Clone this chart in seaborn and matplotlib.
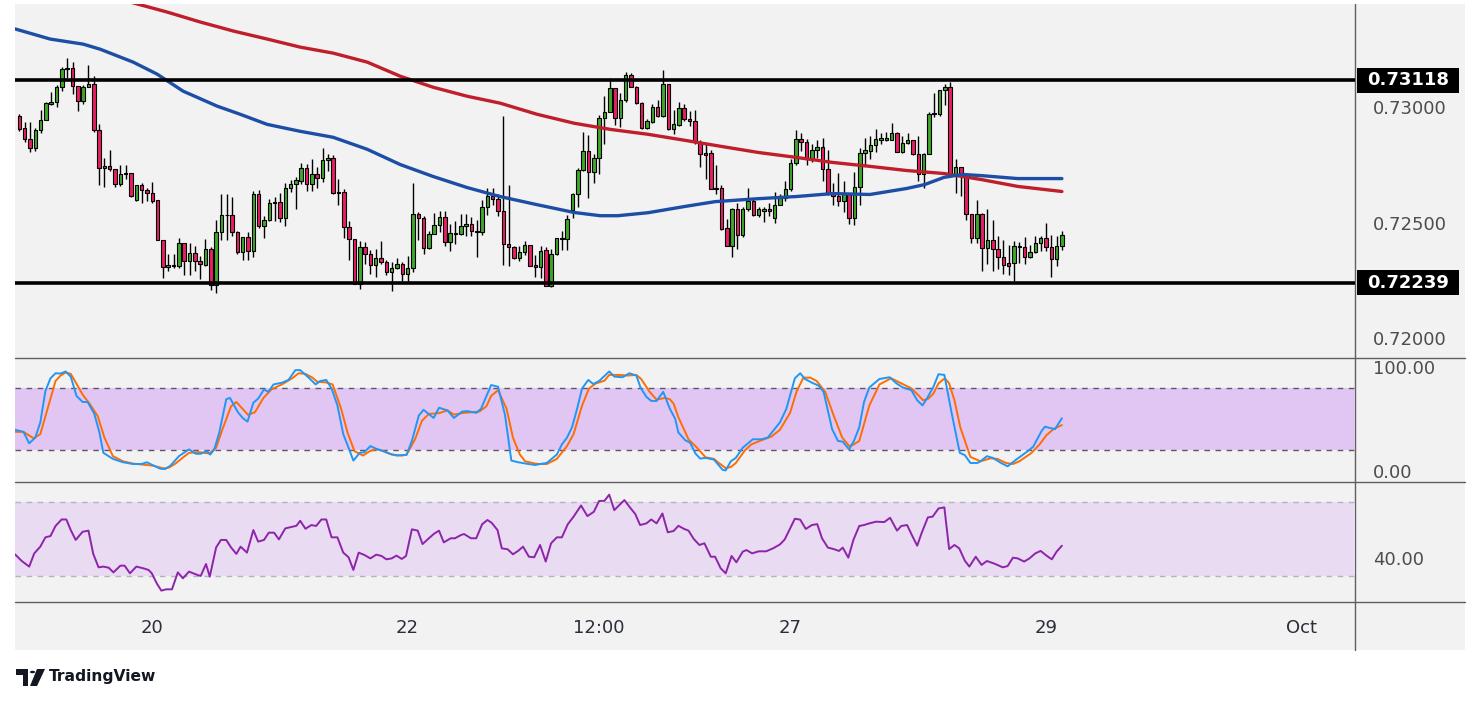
import numpy as np
import pandas as pd
import matplotlib
matplotlib.use("Agg")
import matplotlib.pyplot as plt
import seaborn as sns
from matplotlib.patches import Rectangle, Polygon, Circle, FancyBboxPatch
from matplotlib.lines import Line2D
import matplotlib.transforms as mtransforms

# ------------------------------------------------------------------ data
# hourly candles (index 0 = first visible candle)
open_ = [
 0.72962,0.72909,0.72864,0.72825,0.72901,0.72947,0.73016,0.73025,0.73086,0.73164,
 0.73169,0.73093,0.73028,0.73090,0.73103,0.72901,0.72738,0.72745,0.72734,0.72668,
 0.72712,0.72716,0.72597,0.72665,0.72643,0.72629,0.72596,0.72425,0.72307,0.72314,
 0.72314,0.72412,0.72332,0.72368,0.72335,0.72317,0.72387,0.72230,0.72460,0.72532,
 0.72533,0.72460,0.72372,0.72438,0.72375,0.72625,0.72484,0.72510,0.72584,0.72590,
 0.72520,0.72651,0.72668,0.72680,0.72738,0.72668,0.72709,0.72694,0.72773,0.72781,
 0.72633,0.72633,0.72481,0.72430,0.72233,0.72394,0.72365,0.72317,0.72346,0.72329,
 0.72288,0.72303,0.72320,0.72278,0.72303,0.72538,0.72520,0.72390,0.72451,0.72488,
 0.72525,0.72414,0.72451,0.72451,0.72484,0.72494,0.72465,0.72460,0.72568,0.72614,
 0.72604,0.72552,0.72407,0.72394,0.72346,0.72372,0.72404,0.72317,0.72307,0.72383,
 0.72227,0.72364,0.72430,0.72429,0.72553,0.72622,0.72730,0.72810,0.72720,0.72781,
 0.72955,0.72981,0.73082,0.72955,0.73032,0.73141,0.73086,0.73018,0.72912,0.72938,
 0.73003,0.72962,0.73100,0.72908,0.72923,0.72995,0.72951,0.72941,0.72851,0.72803,
 0.72803,0.72651,0.72651,0.72477,0.72397,0.72557,0.72448,0.72561,0.72593,0.72532,
 0.72552,0.72561,0.72520,0.72578,0.72607,0.72644,0.72760,0.72864,0.72851,0.72777,
 0.72814,0.72829,0.72734,0.72625,0.72614,0.72593,0.72622,0.72520,0.72655,0.72803,
 0.72810,0.72835,0.72860,0.72860,0.72860,0.72890,0.72807,0.72844,0.72857,0.72799,
 0.72709,0.72796,0.72970,0.72970,0.73074,0.73090,0.72706,0.72741,0.72706,0.72538,
 0.72433,0.72538,0.72390,0.72426,0.72386,0.72351,0.72325,0.72325,0.72394,0.72394,
 0.72351,0.72372,0.72412,0.72433,0.72394,0.72342,0.72400]
high = [
 0.72970,0.72938,0.72938,0.72912,0.72987,0.73023,0.73067,0.73096,0.73173,0.73212,
 0.73195,0.73093,0.73097,0.73183,0.73134,0.72926,0.72781,0.72814,0.72734,0.72752,
 0.72752,0.72716,0.72665,0.72673,0.72651,0.72677,0.72596,0.72425,0.72365,0.72365,
 0.72433,0.72412,0.72412,0.72397,0.72356,0.72430,0.72393,0.72513,0.72625,0.72625,
 0.72612,0.72465,0.72438,0.72460,0.72636,0.72643,0.72527,0.72604,0.72610,0.72629,
 0.72673,0.72683,0.72697,0.72760,0.72755,0.72774,0.72740,0.72825,0.72796,0.72793,
 0.72690,0.72644,0.72506,0.72430,0.72419,0.72416,0.72383,0.72386,0.72422,0.72339,
 0.72329,0.72346,0.72329,0.72356,0.72673,0.72546,0.72527,0.72462,0.72542,0.72552,
 0.72549,0.72494,0.72506,0.72538,0.72538,0.72525,0.72513,0.72600,0.72651,0.72651,
 0.72625,0.72962,0.72665,0.72397,0.72400,0.72419,0.72404,0.72361,0.72397,0.72393,
 0.72386,0.72433,0.72462,0.72535,0.72629,0.72738,0.72894,0.72878,0.72799,0.72965,
 0.73049,0.73126,0.73082,0.73064,0.73151,0.73147,0.73092,0.73021,0.72948,0.73013,
 0.73031,0.73161,0.73103,0.72987,0.73021,0.73016,0.72984,0.72987,0.72857,0.72842,
 0.72813,0.72748,0.72665,0.72517,0.72564,0.72583,0.72568,0.72651,0.72607,0.72568,
 0.72567,0.72586,0.72633,0.72622,0.72680,0.72778,0.72900,0.72890,0.72861,0.72839,
 0.72857,0.72868,0.72813,0.72673,0.72716,0.72680,0.72622,0.72720,0.72825,0.72865,
 0.72875,0.72904,0.72887,0.72894,0.72934,0.72894,0.72875,0.72890,0.72857,0.72875,
 0.72803,0.72981,0.73064,0.73074,0.73103,0.73108,0.72777,0.72741,0.72716,0.72538,
 0.72600,0.72542,0.72561,0.72513,0.72443,0.72426,0.72404,0.72422,0.72414,0.72436,
 0.72404,0.72443,0.72440,0.72499,0.72448,0.72440,0.72462]
low = [
 0.72897,0.72851,0.72806,0.72810,0.72890,0.72945,0.73009,0.73001,0.73071,0.73126,
 0.73057,0.72984,0.73016,0.73086,0.72894,0.72665,0.72653,0.72726,0.72653,0.72658,
 0.72691,0.72610,0.72593,0.72586,0.72593,0.72586,0.72425,0.72259,0.72291,0.72303,
 0.72303,0.72274,0.72274,0.72291,0.72255,0.72313,0.72209,0.72194,0.72423,0.72423,
 0.72443,0.72365,0.72336,0.72336,0.72351,0.72477,0.72433,0.72506,0.72506,0.72503,
 0.72484,0.72632,0.72561,0.72668,0.72636,0.72636,0.72651,0.72675,0.72726,0.72622,
 0.72575,0.72433,0.72336,0.72233,0.72212,0.72320,0.72278,0.72266,0.72320,0.72271,
 0.72205,0.72300,0.72245,0.72238,0.72288,0.72426,0.72365,0.72386,0.72451,0.72458,
 0.72400,0.72375,0.72409,0.72448,0.72440,0.72440,0.72353,0.72445,0.72535,0.72578,
 0.72527,0.72317,0.72314,0.72342,0.72335,0.72361,0.72314,0.72266,0.72259,0.72227,
 0.72223,0.72361,0.72383,0.72383,0.72520,0.72567,0.72723,0.72607,0.72673,0.72709,
 0.72839,0.72981,0.72922,0.72915,0.73021,0.73086,0.73013,0.72904,0.72904,0.72934,
 0.72958,0.72958,0.72900,0.72883,0.72919,0.72941,0.72919,0.72842,0.72740,0.72690,
 0.72647,0.72626,0.72470,0.72397,0.72353,0.72386,0.72436,0.72549,0.72527,0.72523,
 0.72503,0.72530,0.72499,0.72575,0.72593,0.72639,0.72752,0.72810,0.72748,0.72764,
 0.72781,0.72680,0.72619,0.72578,0.72571,0.72545,0.72494,0.72488,0.72578,0.72749,
 0.72778,0.72806,0.72842,0.72854,0.72857,0.72807,0.72803,0.72839,0.72793,0.72680,
 0.72651,0.72796,0.72958,0.72962,0.73009,0.72699,0.72629,0.72614,0.72513,0.72412,
 0.72412,0.72292,0.72320,0.72291,0.72299,0.72278,0.72274,0.72249,0.72325,0.72322,
 0.72346,0.72368,0.72375,0.72375,0.72266,0.72310,0.72383]
close = [
 0.72904,0.72864,0.72825,0.72903,0.72947,0.73018,0.73025,0.73089,0.73166,0.73169,
 0.73093,0.73028,0.73090,0.73103,0.72900,0.72738,0.72745,0.72731,0.72668,0.72713,
 0.72717,0.72617,0.72665,0.72640,0.72629,0.72593,0.72425,0.72307,0.72317,0.72317,
 0.72412,0.72332,0.72368,0.72332,0.72320,0.72386,0.72230,0.72460,0.72533,0.72535,
 0.72460,0.72372,0.72438,0.72375,0.72625,0.72484,0.72513,0.72586,0.72590,0.72520,
 0.72651,0.72668,0.72683,0.72738,0.72668,0.72709,0.72694,0.72773,0.72781,0.72629,
 0.72629,0.72481,0.72430,0.72233,0.72394,0.72364,0.72317,0.72346,0.72329,0.72288,
 0.72303,0.72320,0.72278,0.72303,0.72538,0.72520,0.72390,0.72451,0.72488,0.72525,
 0.72414,0.72455,0.72455,0.72487,0.72494,0.72462,0.72460,0.72568,0.72614,0.72603,
 0.72549,0.72407,0.72394,0.72346,0.72372,0.72404,0.72314,0.72307,0.72379,0.72227,
 0.72364,0.72433,0.72435,0.72516,0.72622,0.72730,0.72810,0.72720,0.72781,0.72955,
 0.72981,0.73082,0.72955,0.73032,0.73141,0.73086,0.73018,0.72909,0.72941,0.73003,
 0.72962,0.73100,0.72908,0.72926,0.72995,0.72951,0.72941,0.72849,0.72796,0.72793,
 0.72647,0.72647,0.72474,0.72397,0.72557,0.72448,0.72561,0.72593,0.72532,0.72557,
 0.72557,0.72549,0.72578,0.72607,0.72647,0.72760,0.72864,0.72851,0.72777,0.72814,
 0.72829,0.72734,0.72622,0.72614,0.72593,0.72622,0.72520,0.72655,0.72803,0.72813,
 0.72835,0.72861,0.72865,0.72865,0.72890,0.72807,0.72847,0.72857,0.72796,0.72709,
 0.72796,0.72973,0.72974,0.73074,0.73090,0.72706,0.72741,0.72706,0.72538,0.72433,
 0.72538,0.72390,0.72426,0.72386,0.72351,0.72317,0.72314,0.72400,0.72400,0.72351,
 0.72372,0.72412,0.72433,0.72394,0.72342,0.72400,0.72448]

# moving averages read at sampled candle positions
ma_blue_x = [-0.8,5.8,12.0,15.2,21.4,25.9,30.8,37.2,41.5,46.6,52.8,59.0,65.4,71.6,77.8,84.2,
             90.4,97.3,104.3,109.2,112.5,118.2,125.1,130.8,139.0,146.0,152.9,159.9,166.8,
             170.2,173.8,177.2,180.8,187.7,196.0]
ma_blue_y = [0.73340,0.73296,0.73274,0.73252,0.73196,0.73144,0.73070,0.73005,0.72970,0.72926,
             0.72896,0.72870,0.72818,0.72752,0.72700,0.72652,0.72613,0.72578,0.72544,0.72530,
             0.72530,0.72543,0.72570,0.72591,0.72604,0.72613,0.72626,0.72622,0.72648,0.72665,
             0.72696,0.72709,0.72704,0.72691,0.72691]
ma_red_x = [17.1,21.4,27.8,34.0,40.2,46.6,52.8,59.0,65.4,71.6,77.8,84.2,90.4,97.3,104.3,111.2,
            118.2,125.1,132.1,139.0,146.0,152.9,159.9,166.8,173.8,180.8,187.7,196.0]
ma_red_y = [0.73483,0.73453,0.73413,0.73370,0.73331,0.73296,0.73261,0.73235,0.73196,0.73135,
            0.73087,0.73048,0.73018,0.72970,0.72931,0.72904,0.72883,0.72857,0.72830,0.72804,
            0.72783,0.72761,0.72744,0.72726,0.72713,0.72687,0.72657,0.72635]

levels = [0.73118, 0.72239]

# stochastic %K / %D
k_x = [-0.81,0.78,1.86,3.0,3.95,4.9,5.86,6.81,7.76,8.71,9.67,10.75,11.9,12.84,14.11,15.06,15.8,17.6,
       19.5,21.4,23.0,23.95,24.9,26.5,27.4,28.4,30.0,31.9,33.2,34.1,35.2,35.9,36.65,37.6,38.9,39.6,
       41.1,42.05,42.9,44.0,44.9,46.0,46.8,47.8,49.4,50.6,51.9,52.8,54.4,55.7,56.6,57.7,58.7,59.8,
       60.9,61.9,62.8,64.0,64.9,66.0,67.1,68.4,69.7,70.9,72.8,73.8,75.1,76.0,77.9,78.9,80.5,81.7,
       83.3,84.3,85.9,86.8,88.7,90.0,91.3,92.5,93.8,95.7,97.0,97.9,99.15,101.05,102.0,102.96,103.9,
       104.86,105.8,106.96,107.9,109.0,110.9,111.85,113.4,114.7,116.0,116.8,117.9,118.8,119.8,121.05,
       122.3,123.3,123.9,125.2,126.1,127.1,128.0,129.0,130.6,132.2,132.8,133.75,134.7,136.0,137.9,
       139.5,140.7,143.0,144.2,145.8,146.8,147.7,149.0,150.3,151.2,152.8,153.9,154.8,156.0,156.9,
       157.9,158.8,159.8,161.7,163.6,164.9,166.1,167.7,168.8,169.8,170.7,171.85,172.8,173.9,175.3,
       176.8,177.75,178.8,180.1,180.7,181.9,183.0,184.55,185.8,187.4,189.6,190.6,192.2,192.8,194.7,196.0]
k_y = [39.8,37.8,26.8,32.3,46.9,76.8,89.1,93.9,93.6,95.6,90.7,72.2,66.4,66.4,55.0,37.2,17.7,11.9,
       8.7,7.0,7.0,8.7,6.4,2.5,2.2,5.4,14.5,21.0,16.8,16.8,19.4,16.1,21.0,37.2,69.0,70.3,
       56.6,50.8,47.6,65.7,69.6,78.4,76.1,83.2,84.9,87.5,96.9,96.9,89.7,83.2,86.5,87.5,79.4,63.1,
       35.6,22.6,10.3,17.7,18.4,24.2,21.6,19.4,16.8,15.1,15.8,29.1,53.4,58.9,51.1,60.9,58.3,51.1,
       57.3,57.6,56.0,59.9,82.6,81.0,54.1,10.3,8.7,7.0,6.1,7.0,8.0,16.1,25.8,32.3,42.1,
       59.9,79.4,87.5,83.6,86.5,95.6,90.7,90.1,93.9,91.7,80.0,71.2,67.4,67.4,76.1,
       59.9,50.2,37.2,29.7,27.5,17.1,12.2,12.9,11.2,1.5,0.9,9.6,12.9,22.6,30.7,
       30.7,32.3,46.9,59.9,89.1,93.9,88.4,84.9,81.9,76.1,40.4,29.1,28.4,21.0,29.1,
       42.1,66.4,80.3,88.4,90.1,84.2,80.3,77.7,68.0,63.1,70.3,81.0,93.0,92.3,55.0,
       17.7,15.5,8.0,8.0,9.6,14.5,12.9,8.0,4.8,11.2,19.4,23.6,38.8,42.7,40.4,50.8]
d_x = [-0.81,0.78,2.68,3.95,5.86,6.81,7.76,8.71,9.67,10.6,11.9,13.2,14.75,16.0,17.6,19.5,21.4,23.3,
       25.2,27.1,28.1,29.35,30.9,31.9,33.8,35.7,37.0,38.2,39.8,40.8,43.0,44.3,45.9,47.4,49.35,51.3,
       52.5,53.8,55.1,56.0,57.6,58.9,60.5,61.7,63.0,64.6,65.9,67.1,68.4,70.0,71.9,72.8,74.4,75.7,
       77.0,78.9,80.5,81.7,83.6,85.2,86.5,87.8,88.7,90.0,91.6,92.8,94.1,95.1,97.0,97.9,99.15,101.05,
       102.96,104.2,105.8,107.1,108.4,110.0,110.9,112.8,114.4,116.0,116.9,118.5,119.8,121.4,122.3,
       123.0,123.9,125.8,127.4,129.0,130.6,131.5,132.8,133.75,134.7,136.3,137.6,139.5,141.4,143.0,
       144.9,146.1,147.4,148.7,149.9,151.5,153.1,154.7,156.0,156.9,157.9,159.8,161.7,163.9,165.8,
       167.7,169.0,169.9,170.9,171.85,172.8,174.0,174.8,175.8,176.9,178.8,180.7,182.6,183.9,185.5,
       186.8,188.0,190.3,191.8,193.1,194.4,196.0]
d_y = [37.8,37.8,31.7,35.6,69.6,86.5,91.7,94.6,93.3,85.2,73.5,64.8,52.8,32.3,14.5,9.6,7.4,6.4,
       5.4,2.8,3.5,7.4,13.8,17.7,18.4,17.1,22.6,40.4,62.2,66.4,54.1,56.6,70.3,78.4,83.2,89.1,
       93.9,93.3,89.7,85.8,85.2,83.2,59.9,37.2,19.4,15.1,19.4,21.3,19.4,16.1,15.1,16.1,30.7,48.5,
       55.0,55.7,58.3,54.4,56.0,56.6,57.3,62.2,72.2,77.7,59.9,32.3,16.1,9.6,7.4,7.0,7.0,11.9,
       24.2,35.6,63.1,79.4,84.2,86.8,92.3,92.3,91.7,92.3,88.4,76.1,68.6,70.3,69.0,
       64.8,51.8,30.7,22.6,13.5,11.9,8.0,3.1,4.1,8.0,19.4,25.8,29.7,33.3,39.8,
       56.0,76.1,89.7,89.7,86.5,76.1,53.4,32.3,24.2,25.8,29.1,63.1,83.2,89.1,84.2,
       79.4,72.9,68.0,69.6,74.5,84.2,89.1,84.2,68.0,42.1,13.8,9.6,12.5,11.9,8.0,
       7.0,9.6,17.7,25.8,34.6,40.4,44.3]

# RSI
rsi_x = [-0.81,0.46,1.86,2.81,3.95,4.9,5.86,6.81,7.95,8.84,9.67,10.6,11.9,13.0,13.9,14.9,15.8,16.8,
         17.7,19.0,19.8,20.8,22.0,23.3,24.3,24.9,25.9,26.7,27.6,28.7,29.8,30.75,31.9,33.5,34.1,35.1,
         35.8,37.0,37.9,38.9,39.8,40.8,41.6,42.8,44.0,44.9,46.0,46.9,47.9,48.8,50.0,51.3,52.1,52.8,
         53.8,54.9,55.8,56.8,57.7,58.7,59.8,60.9,61.9,62.8,63.8,64.9,66.0,67.1,68.1,69.0,70.0,70.9,
         71.9,72.7,73.8,74.9,75.8,77.0,77.9,78.9,79.8,81.1,81.9,83.0,83.6,84.9,85.9,87.0,88.0,88.8,
         89.9,90.7,91.8,92.8,93.8,94.7,95.8,96.8,97.9,98.96,99.97,101.05,102.0,103.1,104.2,105.6,
         106.8,108.0,109.0,110.0,110.9,111.85,113.75,114.7,115.8,116.7,117.9,118.8,119.8,120.9,121.9,
         123.0,123.9,125.0,125.8,126.8,127.85,128.8,130.0,130.8,131.85,132.8,133.9,134.8,136.0,136.7,
         137.75,139.0,140.4,141.7,143.0,143.9,144.9,145.8,146.8,147.85,149.0,150.0,150.9,152.0,153.1,
         154.1,154.8,155.85,156.8,157.9,158.8,159.8,161.05,162.6,163.7,165.0,165.8,166.9,167.85,168.8,
         169.6,170.8,171.7,172.8,173.9,174.8,175.8,176.7,177.75,178.6,179.8,180.9,181.9,183.3,184.9,
         185.8,186.8,187.7,188.9,189.9,191.0,192.0,193.1,194.1,195.0,196.0]
rsi_y = [41.8,38.2,35.2,42.3,45.9,50.9,51.6,57.0,60.5,60.5,54.8,49.5,53.9,54.5,42.0,34.8,35.2,34.6,
         32.1,35.7,35.7,31.6,35.2,34.3,33.4,31.6,25.9,22.3,23.0,23.0,32.1,28.9,32.5,30.7,30.2,36.6,
         29.8,45.5,49.5,49.5,45.5,42.0,45.9,42.7,54.8,48.6,49.5,53.4,53.4,49.8,55.7,56.6,57.1,59.8,
         55.5,57.5,57.0,60.5,60.5,50.9,50.9,42.7,40.2,33.4,42.7,41.4,39.6,41.6,40.9,39.1,39.6,41.1,
         39.3,40.9,55.2,54.5,47.3,50.4,52.7,54.5,48.2,50.4,50.4,52.1,52.7,50.4,50.4,57.9,60.2,58.7,
         54.8,45.0,44.5,41.8,43.7,45.9,40.5,40.2,46.8,37.9,47.7,50.9,50.9,57.9,62.0,68.0,
         62.3,64.6,70.4,70.5,73.8,65.5,70.9,67.3,63.4,57.5,58.4,60.5,58.4,63.7,53.6,
         54.3,57.1,55.4,54.5,50.0,46.8,47.7,40.5,40.5,34.3,31.6,40.9,37.5,43.2,44.1,
         42.3,43.4,43.4,45.0,47.1,49.8,55.7,60.9,60.4,55.4,57.5,58.0,50.4,45.4,44.6,
         43.6,45.4,40.0,49.5,57.0,57.5,58.4,59.3,59.1,61.4,54.5,57.0,57.5,51.8,46.4,
         53.0,61.6,62.0,66.4,67.0,44.6,46.8,45.0,38.4,35.2,40.5,36.1,38.2,36.8,34.8,
         35.5,40.0,39.6,37.9,39.6,42.3,43.6,41.1,39.1,43.2,46.4]

date_ticks = [25, 73, 109, 145, 193, 241]
date_labels = ["20", "22", "12:00", "27", "29", "Oct"]
price_ticks = [0.73000, 0.72500, 0.72000]

# ------------------------------------------------------------------ figure
sns.set_theme(style="white")
plt.rcParams["font.family"] = ["DejaVu Sans"]

W, H = 1479, 703
fig = plt.figure(figsize=(W / 100, H / 100), dpi=100)
fig.patch.set_facecolor("white")

def fx(px):
    return px / W

def fy(py):
    return 1 - py / H

PANEL_L, PANEL_R, AXIS_X = 15, 1465, 1355
bg = Rectangle((fx(PANEL_L), fy(650)), fx(PANEL_R) - fx(PANEL_L), fy(4) - fy(650),
               transform=fig.transFigure, facecolor="#f2f2f2", edgecolor="none", zorder=-5)
fig.add_artist(bg)

XMIN, XMAX = -0.81, 251.1
LABEL_COLOR = "#4d4d4d"
FS = 13

def add_ax(top, bottom):
    ax = fig.add_axes([fx(PANEL_L), fy(bottom), fx(AXIS_X) - fx(PANEL_L), fy(top) - fy(bottom)])
    ax.set_facecolor("none")
    ax.set_zorder(1)
    for s in ax.spines.values():
        s.set_visible(False)
    ax.set_xlim(XMIN, XMAX)
    ax.yaxis.tick_right()
    ax.tick_params(axis="both", length=0, labelleft=False, labelbottom=False)
    ax.tick_params(axis="y", labelright=True, pad=13, labelsize=FS, labelcolor=LABEL_COLOR)
    ax.grid(False)
    return ax

# ---------------- main price panel
ax = add_ax(4, 358)
YMIN, YMAX = 0.71913, 0.73448
idx = np.arange(len(close))
o = np.array(open_); c = np.array(close); h = np.array(high); l = np.array(low)
up = c >= o
colors = np.where(up, "#3ea82a", "#e91e63")
ax.vlines(idx, l, h, color="black", lw=1.0, zorder=3)
ax.bar(idx, np.abs(c - o), bottom=np.minimum(o, c), width=0.66, color=colors,
       edgecolor="black", linewidth=0.8, zorder=4)

sns.lineplot(x=ma_red_x, y=ma_red_y, ax=ax, color="#bf1f2a", lw=2.4, estimator=None, zorder=5)
sns.lineplot(x=ma_blue_x, y=ma_blue_y, ax=ax, color="#1c4ea6", lw=2.4, estimator=None, zorder=5)
for lv in levels:
    ax.axhline(lv, color="black", lw=2.6, zorder=6)
ax.set_yticks(price_ticks)
ax.set_yticklabels([f"{v:.5f}" for v in price_ticks])
ax.set_xlabel(""); ax.set_ylabel("")
ax.set_ylim(YMIN, YMAX)
ax.set_xlim(XMIN, XMAX)

# price-level badges on the price scale
trans = mtransforms.blended_transform_factory(ax.transAxes, ax.transData)
ax_w_px = AXIS_X - PANEL_L
ax_h_px = 358 - 4
badge_h = 25 / ax_h_px * (YMAX - YMIN)
for lv in levels:
    badge = FancyBboxPatch((2 / ax_w_px + 1.0, lv - badge_h / 2), 102 / ax_w_px, badge_h,
                           boxstyle="square,pad=0", transform=trans, facecolor="black",
                           edgecolor="none", clip_on=False, zorder=9)
    ax.add_patch(badge)
    ax.text(1.0 + 53 / ax_w_px, lv, f"{lv:.5f}", transform=trans, ha="center", va="center",
            fontsize=FS, color="white", fontweight="bold", zorder=10, clip_on=False)

# ---------------- stochastic panel
ax_s = add_ax(358, 482)
ax_s.axhspan(20, 80, color="#e1c6f4", zorder=1, lw=0)
for lv in (20, 80):
    ax_s.axhline(lv, color="#5e5768", lw=1.0, dashes=(4, 4), zorder=2)
sns.lineplot(x=k_x, y=k_y, ax=ax_s, color="#2196f3", lw=1.4, estimator=None, zorder=4)
sns.lineplot(x=d_x, y=d_y, ax=ax_s, color="#ff6d00", lw=1.4, estimator=None, zorder=3)
ax_s.set_yticks([100, 0])
ax_s.set_yticklabels(["100.00", "0.00"])
ax_s.set_xlabel(""); ax_s.set_ylabel("")
ax_s.set_xlim(XMIN, XMAX); ax_s.set_ylim(-10.2, 108.5)

# ---------------- RSI panel
ax_r = add_ax(482, 602)
ax_r.axhspan(30, 70, color="#e8dbf2", zorder=1, lw=0)
for lv in (30, 70):
    ax_r.axhline(lv, color="#b4b4bc", lw=1.0, dashes=(4, 4), zorder=2)
sns.lineplot(x=rsi_x, y=rsi_y, ax=ax_r, color="#8e24aa", lw=1.4, estimator=None, zorder=4)
ax_r.set_yticks([40])
ax_r.set_yticklabels(["40.00"])
ax_r.set_xticks(date_ticks)
ax_r.set_xticklabels(date_labels)
ax_r.tick_params(axis="x", labelbottom=True, pad=12, labelsize=FS, labelcolor="#2a2e39")
ax_r.set_xlabel(""); ax_r.set_ylabel("")
ax_r.set_xlim(XMIN, XMAX); ax_r.set_ylim(16.2, 80.6)

# ---------------- separators
for yy in (358, 482, 602):
    fig.add_artist(Line2D([fx(PANEL_L), fx(PANEL_R)], [fy(yy), fy(yy)], transform=fig.transFigure,
                          color="#5f5f5f", lw=1.0, zorder=-1))
fig.add_artist(Line2D([fx(AXIS_X), fx(AXIS_X)], [fy(4), fy(650)], transform=fig.transFigure,
                      color="#5f5f5f", lw=1.0, zorder=-1))

# ---------------- TradingView logo
logo_T = Polygon([(fx(16), fy(669)), (fx(28), fy(669)), (fx(28), fy(686)), (fx(23), fy(686)),
                  (fx(23), fy(675)), (fx(16), fy(675))], closed=True, transform=fig.transFigure,
                 facecolor="#131722", edgecolor="none")
logo_V = Polygon([(fx(37), fy(669)), (fx(45), fy(669)), (fx(37), fy(686)), (fx(30), fy(686))],
                 closed=True, transform=fig.transFigure, facecolor="#131722", edgecolor="none")
fig.add_artist(logo_T)
fig.add_artist(logo_V)
fig.add_artist(Circle((fx(32.5), fy(672)), 2.6 / W, transform=fig.transFigure,
                      facecolor="#131722", edgecolor="none"))
fig.text(fx(49), fy(677), "TradingView", fontsize=11.2, color="#131722", fontweight="bold",
         ha="left", va="center")

fig.savefig("out.png", dpi=100, facecolor="white")
